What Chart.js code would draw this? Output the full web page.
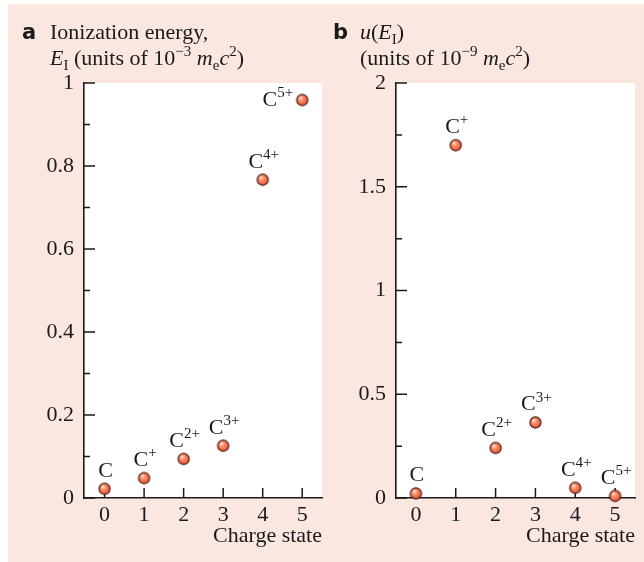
<!DOCTYPE html>
<html lang="en">
<head>
    <meta charset="UTF-8">
    <title>Carbon ionization energies</title>
    <script src="https://cdn.jsdelivr.net/npm/chart.js"></script>
    <style>
        body {
            margin: 0;
            width: 644px;
            height: 562px;
            background: #ffffff;
            position: relative;
            overflow: hidden;
        }
        .panel {
            position: absolute;
            left: 8px;
            top: 4px;
            right: 0;
            bottom: 0;
            background: #fae8e0;
        }
        .box {
            position: absolute;
            top: 0;
            height: 562px;
        }
        #boxA { left: 0; width: 330px; }
        #boxB { left: 330px; width: 314px; }
    </style>
</head>
<body>
    <div class="panel"></div>
    <div class="box" id="boxA"><canvas id="chartA"></canvas></div>
    <div class="box" id="boxB"><canvas id="chartB"></canvas></div>

    <script>
        // data
        const chargeStates = [0, 1, 2, 3, 4, 5];
        const ionLabels = ['C', 'C+', 'C2+', 'C3+', 'C4+', 'C5+'];
        const ionEnergy = [0.022, 0.048, 0.094, 0.126, 0.767, 0.959];   // 10^-3 m_e c^2
        const ionUncert = [0.022, 1.70, 0.241, 0.364, 0.049, 0.010];    // 10^-9 m_e c^2

        const xTicks = [0, 1, 2, 3, 4, 5];
        const yTicksA = [0, 0.2, 0.4, 0.6, 0.8, 1];
        const yMinorA = [0.1, 0.3, 0.5, 0.7, 0.9];
        const yTickLabelsA = ['0', '0.2', '0.4', '0.6', '0.8', '1'];
        const yTicksB = [0, 0.5, 1, 1.5, 2];
        const yMinorB = [0.25, 0.75, 1.25, 1.75];
        const yTickLabelsB = ['0', '0.5', '1', '1.5', '2'];

        const SERIF = '"Liberation Serif", "DejaVu Serif", serif';
        const INK = '#1a1a1a';

        // small shaded ball used as marker
        function makeBall() {
            const c = document.createElement('canvas');
            c.width = 15; c.height = 15;
            const g = c.getContext('2d');
            const grad = g.createRadialGradient(5.6, 5.2, 0.3, 7.5, 7.5, 6.2);
            grad.addColorStop(0, '#fff0e6');
            grad.addColorStop(0.3, '#fb9a78');
            grad.addColorStop(0.75, '#f0603e');
            grad.addColorStop(1, '#d8442a');
            g.beginPath();
            g.arc(7.5, 7.5, 5.6, 0, Math.PI * 2);
            g.fillStyle = grad;
            g.fill();
            g.lineWidth = 1.1;
            g.strokeStyle = '#4a1c14';
            g.stroke();
            return c;
        }
        const ball = makeBall();

        // draw text made of pieces (italic / sub / sup)
        function drawRich(ctx, x, y, parts, size, align) {
            const fontFor = p => (p.i ? 'italic ' : '') + ((p.sup || p.sub) ? Math.round(size * 0.66) : size) + 'px ' + SERIF;
            let w = 0;
            parts.forEach(p => { ctx.font = fontFor(p); w += ctx.measureText(p.t).width; });
            let cx = align === 'center' ? x - w / 2 : align === 'right' ? x - w : x;
            ctx.textAlign = 'left';
            ctx.textBaseline = 'alphabetic';
            parts.forEach(p => {
                ctx.font = fontFor(p);
                const dy = p.sup ? -size * 0.4 : p.sub ? size * 0.22 : 0;
                ctx.fillText(p.t, cx, y + dy);
                cx += ctx.measureText(p.t).width;
            });
        }

        const decor = {
            id: 'decor',
            beforeDraw(chart) {
                const a = chart.chartArea;
                const ctx = chart.ctx;
                ctx.save();
                ctx.fillStyle = '#ffffff';
                ctx.fillRect(a.left, a.top, a.right - a.left, a.bottom - a.top);
                ctx.restore();
            },
            beforeDatasetsDraw(chart, args, o) {
                const ctx = chart.ctx;
                const a = chart.chartArea;
                const xs = chart.scales.x, ys = chart.scales.y;
                ctx.save();
                ctx.strokeStyle = INK;
                ctx.lineWidth = 1.5;
                ctx.beginPath();
                o.major.forEach(v => {
                    const y = ys.getPixelForValue(v);
                    ctx.moveTo(a.left, y); ctx.lineTo(a.left + 11, y);
                });
                o.minor.forEach(v => {
                    const y = ys.getPixelForValue(v);
                    ctx.moveTo(a.left, y); ctx.lineTo(a.left + 6, y);
                });
                xTicks.forEach(v => {
                    const x = xs.getPixelForValue(v);
                    ctx.moveTo(x, a.bottom); ctx.lineTo(x, a.bottom - 10);
                });
                ctx.stroke();
                ctx.restore();
            },
            afterDraw(chart, args, o) {
                const ctx = chart.ctx;
                const a = chart.chartArea;
                ctx.save();
                ctx.fillStyle = INK;
                // point labels
                const meta = chart.getDatasetMeta(0);
                meta.data.forEach((pt, i) => {
                    const lab = ionLabels[i];
                    const parts = [{ t: lab[0] }];
                    if (lab.length > 1) parts.push({ t: lab.slice(1), sup: true });
                    if (o.leftLabels.includes(i)) {
                        drawRich(ctx, pt.x - 9, pt.y + 6, parts, 22, 'right');
                    } else {
                        drawRich(ctx, pt.x + 1, pt.y - 12, parts, 22, 'center');
                    }
                });

                // axis title
                ctx.font = '22px ' + SERIF;
                ctx.textAlign = 'right';
                ctx.textBaseline = 'alphabetic';
                ctx.fillText('Charge state', a.right, 542);

                // panel letter + heading
                ctx.font = 'bold 21px "DejaVu Sans", sans-serif';
                ctx.textAlign = 'left';
                ctx.fillText(o.letter, o.letterX, 39);
                drawRich(ctx, o.headX, 39, o.line1, 22, 'left');
                drawRich(ctx, o.headX, 65, o.line2, 22, 'left');
                ctx.restore();
            }
        };

        function makeChart(id, values, yMax, major, minor, tickLabels, xMin, yAxisW, padRight, head) {
            return new Chart(document.getElementById(id), {
                type: 'scatter',
                data: {
                    datasets: [{
                        data: chargeStates.map((x, i) => ({ x: x, y: values[i] })),
                        pointStyle: ball,
                        pointRadius: 7,
                        clip: false
                    }]
                },
                plugins: [decor],
                options: {
                    responsive: true,
                    maintainAspectRatio: false,
                    animation: false,
                    layout: { padding: { top: 83, right: padRight, left: 0, bottom: 0 } },
                    plugins: {
                        legend: { display: false },
                        tooltip: { enabled: false },
                        decor: Object.assign({ major: major, minor: minor }, head)
                    },
                    scales: {
                        x: {
                            type: 'linear',
                            min: xMin,
                            max: 5.5,
                            afterBuildTicks: s => { s.ticks = xTicks.map(v => ({ value: v })); },
                            afterFit: s => { s.height = 64; },
                            grid: { display: false },
                            border: { display: true, color: INK, width: 1.6 },
                            ticks: {
                                color: INK,
                                padding: -4,
                                font: { family: SERIF, size: 22 },
                                callback: v => String(v)
                            }
                        },
                        y: {
                            min: 0,
                            max: yMax,
                            afterBuildTicks: s => { s.ticks = major.map(v => ({ value: v })); },
                            afterFit: s => { s.width = yAxisW; },
                            grid: { display: false, drawTicks: false },
                            border: { display: true, color: INK, width: 1.6 },
                            ticks: {
                                color: INK,
                                padding: 10,
                                font: { family: SERIF, size: 22 },
                                callback: (v, i) => tickLabels[i]
                            }
                        }
                    }
                }
            });
        }

        makeChart('chartA', ionEnergy, 1, yTicksA, yMinorA, yTickLabelsA, -0.52, 84, 7, {
            letter: 'a', letterX: 22, headX: 50, leftLabels: [5],
            line1: [{ t: 'Ionization energy,' }],
            line2: [{ t: 'E', i: true }, { t: 'I', sub: true }, { t: ' (units of 10' },
                    { t: '\u22123', sup: true }, { t: ' ' }, { t: 'm', i: true },
                    { t: 'e', sub: true }, { t: 'c', i: true }, { t: '2', sup: true }, { t: ')' }]
        });

        makeChart('chartB', ionUncert, 2, yTicksB, yMinorB, yTickLabelsB, -0.5, 66, 9, {
            letter: 'b', letterX: 3, headX: 30, leftLabels: [],
            line1: [{ t: 'u', i: true }, { t: '(' }, { t: 'E', i: true }, { t: 'I', sub: true }, { t: ')' }],
            line2: [{ t: '(units of 10' }, { t: '\u22129', sup: true }, { t: ' ' }, { t: 'm', i: true },
                    { t: 'e', sub: true }, { t: 'c', i: true }, { t: '2', sup: true }, { t: ')' }]
        });
    </script>
</body>
</html>
